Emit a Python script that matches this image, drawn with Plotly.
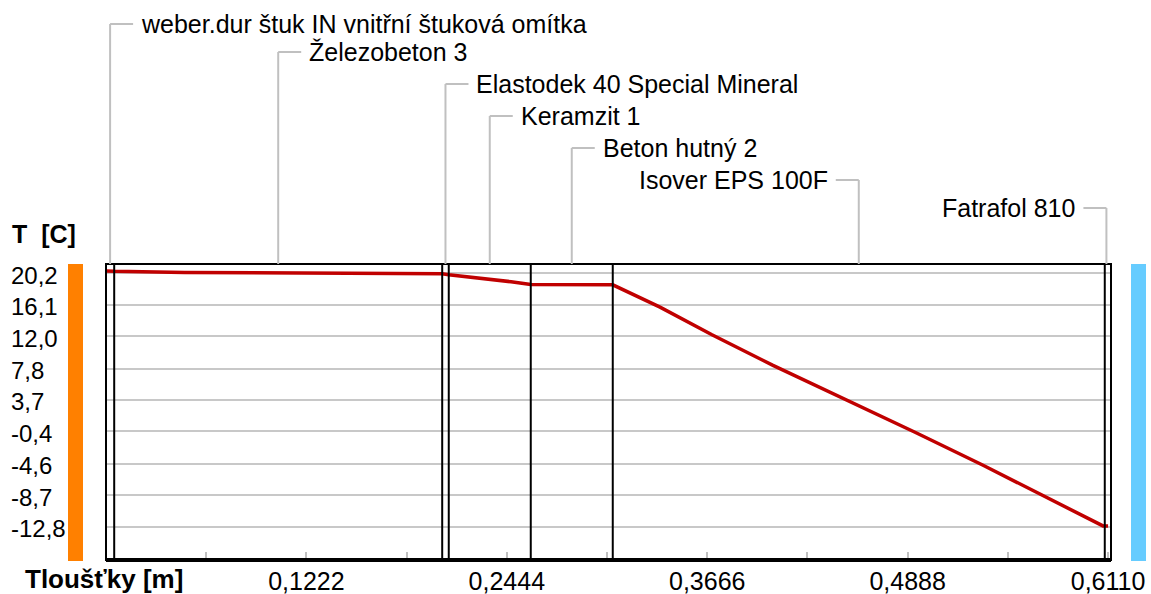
import numpy as np
import plotly.graph_objects as go

# ---- data ----
layer_names = [
    "weber.dur štuk IN vnitřní štuková omítka",
    "Železobeton 3",
    "Elastodek 40 Special Mineral",
    "Keramzit 1",
    "Beton hutný 2",
    "Isover EPS 100F",
    "Fatrafol 810",
]
layer_thickness = [0.005, 0.200, 0.004, 0.050, 0.050, 0.300, 0.002]

depth_m = [0.0, 0.005, 0.048, 0.205, 0.209, 0.221, 0.233, 0.247, 0.259, 0.309,
           0.3378, 0.3695, 0.4067, 0.4506, 0.4933, 0.5348, 0.5707, 0.6079, 0.611]
temp_c = [20.5, 20.45, 20.3, 20.15, 20.0, 19.75, 19.45, 19.1, 18.75, 18.7,
          15.8, 12.2, 8.2, 3.8, -0.5, -4.8, -8.7, -12.7, -12.7]

y_tick_vals = [20.2, 16.1, 12.0, 7.8, 3.7, -0.4, -4.6, -8.7, -12.8]
y_tick_text = ["20,2", "16,1", "12,0", "7,8", "3,7", "-0,4", "-4,6", "-8,7", "-12,8"]
x_tick_vals = [0.1222, 0.2444, 0.3666, 0.4888, 0.6110]
x_tick_text = ["0,1222", "0,2444", "0,3666", "0,4888", "0,6110"]

# ---- layout geometry ----
W, H = 1151, 594
L, R, T, B = 106, 40, 264, 34
PW, PH = W - L - R, H - T - B
FONT = "Liberation Sans"
GRID = "#c8c8c8"
LEAD = "#c0c0c0"


def px_x(px):
    return (px - L) / PW


def px_y(py):
    return (H - B - py) / PH


bounds = np.concatenate([[0.0], np.cumsum(layer_thickness)])
centers = (bounds[:-1] + bounds[1:]) / 2
label_rows = [24, 52, 84, 116, 148, 180, 208]
label_right = [True, True, True, True, True, False, False]

fig = go.Figure()
fig.add_trace(go.Scatter(x=depth_m, y=temp_c, mode="lines",
                         line=dict(color="#c00000", width=3.5),
                         hoverinfo="skip", showlegend=False))

shapes = []
# colored side bars
shapes.append(dict(type="rect", xref="paper", yref="paper",
                   x0=px_x(68), x1=px_x(83), y0=px_y(561), y1=px_y(264),
                   fillcolor="#ff8000", line=dict(width=0)))
shapes.append(dict(type="rect", xref="paper", yref="paper",
                   x0=px_x(1131), x1=px_x(1146), y0=px_y(561), y1=px_y(264),
                   fillcolor="#66ccff", line=dict(width=0)))
# layer boundaries (outer face coincides with the frame)
for b in bounds[:-1]:
    shapes.append(dict(type="line", xref="x", yref="paper", x0=b, x1=b, y0=0, y1=1,
                       line=dict(color="black", width=2)))
# frame
shapes.append(dict(type="rect", xref="paper", yref="paper", x0=0, x1=1, y0=0, y1=1,
                   line=dict(color="black", width=2)))
shapes.append(dict(type="line", xref="paper", yref="paper", x0=0, x1=1, y0=0, y1=0,
                   line=dict(color="black", width=4)))

annotations = []
# leader lines + labels
for name, c, row, right in zip(layer_names, centers, label_rows, label_right):
    yp = px_y(row)
    shapes.append(dict(type="line", xref="x", xsizemode="pixel", xanchor=c, x0=0, x1=0,
                       yref="paper", y0=1, y1=yp, line=dict(color=LEAD, width=2)))
    dx = 23 if right else -23
    shapes.append(dict(type="line", xref="x", xsizemode="pixel", xanchor=c, x0=0, x1=dx,
                       yref="paper", y0=yp, y1=yp, line=dict(color=LEAD, width=2)))
    annotations.append(dict(text=name, xref="x", x=c, xshift=(29 if right else -29),
                            xanchor=("left" if right else "right"),
                            yref="paper", y=yp, yanchor="middle", showarrow=False,
                            font=dict(family=FONT, size=25, color="black")))

# y tick labels (left aligned)
for v, t in zip(y_tick_vals, y_tick_text):
    annotations.append(dict(text=t, xref="paper", x=px_x(9), xanchor="left",
                            yref="y", y=v, yanchor="middle", yshift=-2, showarrow=False,
                            font=dict(family=FONT, size=24, color="black")))

annotations.append(dict(text="<b>T  [C]</b>", xref="paper", x=px_x(10), xanchor="left",
                        yref="paper", y=px_y(234), yanchor="middle", showarrow=False,
                        font=dict(family=FONT, size=25, color="black")))
annotations.append(dict(text="<b>Tloušťky [m]</b>", xref="paper", x=px_x(23), xanchor="left",
                        yref="paper", y=px_y(579), yanchor="middle", showarrow=False,
                        font=dict(family=FONT, size=26, color="black")))

fig.update_layout(
    width=W, height=H, margin=dict(l=L, r=R, t=T, b=B, autoexpand=False),
    paper_bgcolor="white", plot_bgcolor="white",
    shapes=shapes, annotations=annotations, showlegend=False,
    xaxis=dict(range=[0, 0.6128], showgrid=False, zeroline=False, showline=False,
               automargin=False,
               tickvals=x_tick_vals, ticktext=x_tick_text,
               ticks="inside", ticklen=8, tickwidth=2, tickcolor=LEAD,
               minor=dict(tick0=0, dtick=0.0611, ticks="inside", ticklen=8,
                          tickwidth=2, tickcolor=LEAD, showgrid=False),
               tickfont=dict(family=FONT, size=25, color="black"),
               ticklabelstandoff=4, fixedrange=True),
    yaxis=dict(range=[-17.14, 21.41], tickvals=y_tick_vals, showticklabels=False,
               automargin=False,
               showgrid=True, gridcolor=GRID, gridwidth=2, zeroline=False,
               showline=False, ticks="", fixedrange=True),
)

fig.write_html("out.html")
